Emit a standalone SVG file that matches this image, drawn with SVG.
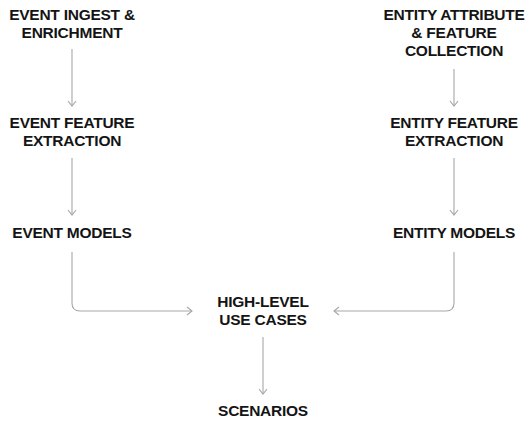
<svg xmlns="http://www.w3.org/2000/svg" width="527" height="421" viewBox="0 0 527 421">
<defs>
<style>
text{font-family:"Liberation Sans",Arial,sans-serif;font-weight:bold;font-size:15.5px;fill:#141414;text-anchor:middle;letter-spacing:-0.25px}
.c{fill:none;stroke:#a3a7ab;stroke-width:1.1}
</style>
<marker id="ah" viewBox="0 0 10 10" refX="9" refY="5" markerWidth="10" markerHeight="10" markerUnits="userSpaceOnUse" orient="auto">
<path d="M4,1 L9,5 L4,9" fill="none" stroke="#a3a7ab" stroke-width="1.1"/>
</marker>
</defs>
<rect width="527" height="421" fill="#ffffff"/>
<g id="event-ingest"><text x="72" y="20">EVENT INGEST &amp;</text><text x="72" y="38">ENRICHMENT</text></g>
<g id="event-feature"><text x="72" y="128">EVENT FEATURE</text><text x="72" y="146">EXTRACTION</text></g>
<g id="event-models"><text x="72" y="238">EVENT MODELS</text></g>
<g id="entity-attr"><text x="454" y="20">ENTITY ATTRIBUTE</text><text x="454" y="38">&amp; FEATURE</text><text x="454" y="56">COLLECTION</text></g>
<g id="entity-feature"><text x="454" y="128">ENTITY FEATURE</text><text x="454" y="146">EXTRACTION</text></g>
<g id="entity-models"><text x="454" y="238">ENTITY MODELS</text></g>
<g id="high-level"><text x="263" y="307">HIGH-LEVEL</text><text x="263" y="325">USE CASES</text></g>
<g id="scenarios"><text x="263" y="416">SCENARIOS</text></g>
<g id="connectors">
<path class="c" d="M72,49 V106" marker-end="url(#ah)"/>
<path class="c" d="M72,158 V215" marker-end="url(#ah)"/>
<path class="c" d="M454,69 V106" marker-end="url(#ah)"/>
<path class="c" d="M454,158 V215" marker-end="url(#ah)"/>
<path class="c" d="M72,252 V303 Q72,311 80,311 H192" marker-end="url(#ah)"/>
<path class="c" d="M454,252 V303 Q454,311 446,311 H334" marker-end="url(#ah)"/>
<path class="c" d="M263,337 V394" marker-end="url(#ah)"/>
</g>
</svg>
